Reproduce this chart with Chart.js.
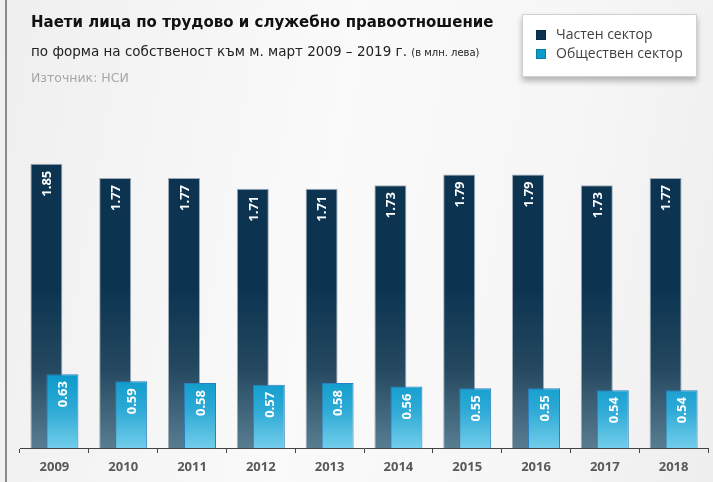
<!DOCTYPE html>
<html>
<head>
<meta charset="utf-8">
<script src="https://cdn.jsdelivr.net/npm/chart.js@4"></script>
<style>
  html, body { margin: 0; padding: 0; }
  body {
    width: 713px; height: 482px; overflow: hidden; position: relative;
    background: linear-gradient(100deg, #efefef 0%, #fafafa 45%, #f6f6f6 75%, #eeeeee 100%);
    font-family: "Open Sans", sans-serif;
  }
  #leftLine { position: absolute; left: 5px; top: 0; width: 2px; height: 482px; background: #8a8a8a; }
  #wrap { position: absolute; left: 0; top: 0; width: 713px; height: 482px; }
  .title { position: absolute; left: 31px; top: 13px; font: bold 15px "DejaVu Sans", sans-serif; color: #111; white-space: nowrap; }
  .subtitle { position: absolute; left: 31px; top: 43px; font: 13.5px "DejaVu Sans", sans-serif; color: #222; white-space: nowrap; }
  .subtitle small { font-size: 10px; }
  .source { position: absolute; left: 31px; top: 70px; font: 12.5px "DejaVu Sans", sans-serif; color: #a6a6a6; white-space: nowrap; }
  #legend {
    position: absolute; left: 522px; top: 14px; width: 173px; height: 61px;
    background: #fff; border: 1px solid #cfcfcf; box-shadow: 0 4px 6px rgba(0,0,0,0.28);
  }
  .li { position: absolute; left: 13px; font: 14px "Open Sans", sans-serif; color: #404040; white-space: nowrap; }
  .li span { display: inline-block; width: 10px; height: 10px; margin-right: 10px; vertical-align: -1px; border: 1px solid rgba(0,0,0,0.2); box-sizing: border-box; }
</style>
</head>
<body>
<div id="leftLine"></div>
<div id="wrap"><canvas id="chart" width="713" height="482"></canvas></div>
<div class="title">Наети лица по трудово и служебно правоотношение</div>
<div class="subtitle">по форма на собственост към м. март 2009 – 2019 г. <small>(в млн. лева)</small></div>
<div class="source">Източник: НСИ</div>
<div id="legend"></div>
<script>
// Datos
const years = ['2009', '2010', '2011', '2012', '2013', '2014', '2015', '2016', '2017', '2018'];
const privateSector = [1.85, 1.77, 1.77, 1.71, 1.71, 1.73, 1.79, 1.79, 1.73, 1.77];
const publicSector = [0.63, 0.59, 0.58, 0.57, 0.58, 0.56, 0.55, 0.55, 0.54, 0.54];
const seriesNames = ['Частен сектор', 'Обществен сектор'];
const seriesColors = ['#0c3451', '#0a9acb'];

// Gradiente vertical para las barras (tres paradas)
function gradiente(top, mid, bottom, span) {
    return function(context) {
        const area = context.chart.chartArea;
        if (!area) return top;
        const g = context.chart.ctx.createLinearGradient(0, area.bottom - span, 0, area.bottom);
        g.addColorStop(0, top);
        g.addColorStop(0.5, mid);
        g.addColorStop(1, bottom);
        return g;
    };
}

// Plugin: barras públicas encima + etiquetas rotadas
const barrasPlugin = {
    id: 'barras',
    beforeDatasetDraw(chart, args) {
        if (args.index === 1) return false; // se dibuja después
    },
    afterDatasetsDraw(chart) {
        const ctx = chart.ctx;
        const a = chart.chartArea;
        ctx.save();
        ctx.beginPath();
        ctx.rect(a.left, a.top, a.right - a.left, a.bottom - a.top);
        ctx.clip();
        chart.getDatasetMeta(1).controller.draw();
        ctx.restore();

        ctx.save();
        ctx.fillStyle = '#ffffff';
        ctx.font = 'bold 13px "Open Sans", sans-serif';
        ctx.textAlign = 'right';
        ctx.textBaseline = 'middle';
        chart.data.datasets.forEach((ds, di) => {
            chart.getDatasetMeta(di).data.forEach((bar, i) => {
                ctx.save();
                ctx.translate(bar.x + 1, bar.y + 7);
                ctx.rotate(-Math.PI / 2);
                ctx.fillText(ds.data[i].toFixed(2), 0, 0);
                ctx.restore();
            });
        });
        ctx.restore();
    }
};

const ctx = document.getElementById('chart').getContext('2d');
new Chart(ctx, {
    type: 'bar',
    data: {
        labels: years,
        datasets: [{
            label: seriesNames[0],
            data: privateSector,
            yAxisID: 'y',
            backgroundColor: gradiente('#0c3451', '#24485f', '#587d91', 160),
            borderColor: 'rgba(120,140,160,0.7)',
            borderWidth: 1
        }, {
            label: seriesNames[1],
            data: publicSector,
            yAxisID: 'y2',
            backgroundColor: gradiente('#0a9acb', '#2eaad6', '#72cdea', 75),
            borderColor: '#2a7fc0',
            borderWidth: 1
        }]
    },
    options: {
        responsive: false,
        animation: false,
        categoryPercentage: 0.465,
        barPercentage: 2.0,
        layout: { padding: { top: 100, left: 20, right: 5, bottom: 0 } },
        plugins: {
            legend: { display: false },
            tooltip: { enabled: false }
        },
        scales: {
            x: {
                grid: { offset: true, drawOnChartArea: false, drawTicks: true, tickLength: 5, color: '#444' },
                border: { display: true, color: '#444', width: 1 },
                ticks: { color: '#595959', padding: 8, font: { family: '"Open Sans", sans-serif', size: 13, weight: 'bold', lineHeight: 1 } }
            },
            y: { display: false, min: 0.254, max: 2.208 },
            y2: { display: false, min: 0.214, max: 2.175 }
        }
    },
    plugins: [barrasPlugin]
});

// Leyenda HTML
const legend = document.getElementById('legend');
seriesNames.forEach((name, i) => {
    const d = document.createElement('div');
    d.className = 'li';
    d.style.top = (i === 0 ? 9 : 28) + 'px';
    d.innerHTML = `<span style="background:${seriesColors[i]}"></span>${name}`;
    legend.appendChild(d);
});
</script>
</body>
</html>
